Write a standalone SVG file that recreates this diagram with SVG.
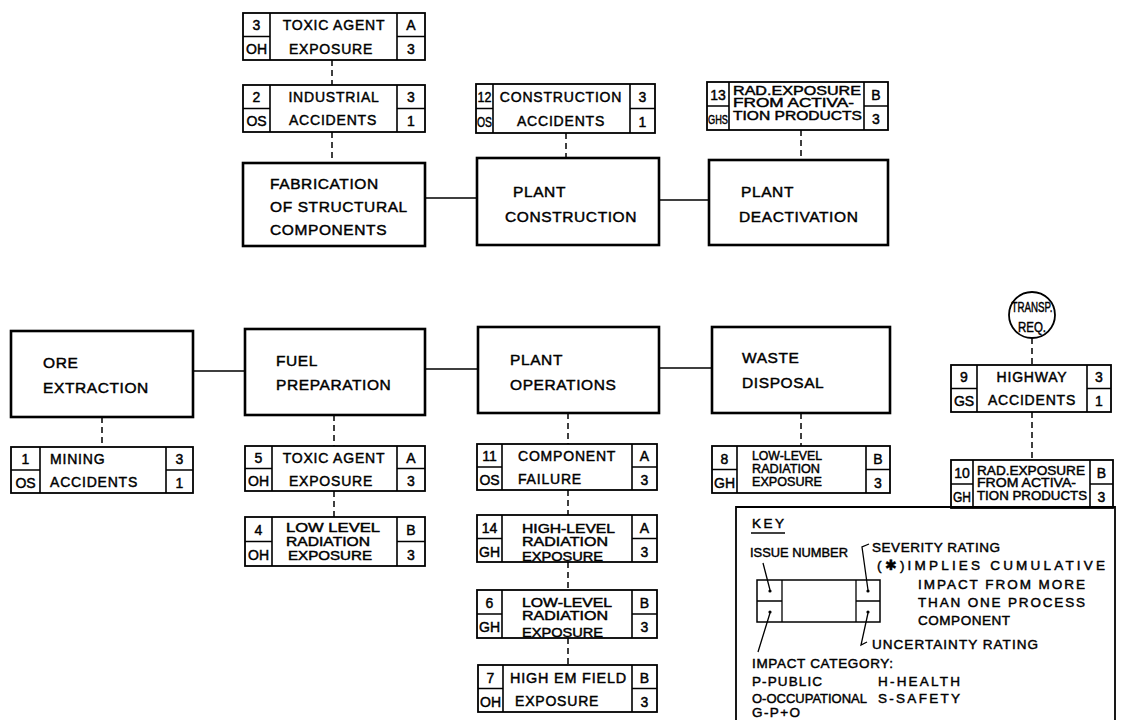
<svg xmlns="http://www.w3.org/2000/svg" width="1135" height="720" viewBox="0 0 1135 720">
<style>
.bg{fill:#fff}
.pbox{fill:#fff;stroke:#000;stroke-width:2.6}
.ibox{fill:#fff;stroke:#000;stroke-width:1.8}
.div{fill:none;stroke:#000;stroke-width:1.6}
.t{font-family:"Liberation Sans",Arial,sans-serif;fill:#000;stroke:#000;stroke-width:0.45}
.pt{font-size:15.5px;letter-spacing:0.6px}
.it{font-size:14px;letter-spacing:0.8px}
.st{font-size:12.5px}
.sc{font-size:14px;text-anchor:middle}
.sm{font-size:12px;text-anchor:middle}
.c{text-anchor:middle}
.solid{fill:none;stroke:#000;stroke-width:1.6}
.dash{fill:none;stroke:#000;stroke-width:1.5;stroke-dasharray:6 4}
.kt{font-size:13.5px}
.kl{fill:none;stroke:#000;stroke-width:1.3}
</style>
<rect class="bg" x="0" y="0" width="1135" height="720"/>

<g id="connectors">
<path class="solid" d="M425 198H477 M659 200H709 M193 371H245 M425 369H478 M659 368H712"/>
<path class="dash" d="M332 60V85 M332 132V163 M566 133V158 M801 130V160 M102 417V447 M334 415V446 M334 491V517 M568 413V444 M568 490V515 M568 562V590 M568 638V665 M801 413V446 M1032 338V365 M1032 412V460"/>
</g>

<!-- Top row -->
<g id="issue3">
<rect class="ibox" x="243" y="13" width="182" height="47"/>
<path class="div" d="M270 13V60 M397 13V60 M243 36.5H270 M397 36.5H425"/>
<text class="t sc" x="256.5" y="30">3</text><text class="t sc" x="256.5" y="54">OH</text>
<text class="t sc" x="411" y="30">A</text><text class="t sc" x="411" y="54">3</text>
<text class="t it c" x="334" y="30">TOXIC AGENT</text><text class="t it c" x="331" y="54">EXPOSURE</text>
</g>
<g id="issue2">
<rect class="ibox" x="243" y="85" width="182" height="47"/>
<path class="div" d="M270 85V132 M397 85V132 M243 108.5H270 M397 108.5H425"/>
<text class="t sc" x="256.5" y="102">2</text><text class="t sc" x="256.5" y="126">OS</text>
<text class="t sc" x="411" y="102">3</text><text class="t sc" x="411" y="126">1</text>
<text class="t it c" x="334" y="102">INDUSTRIAL</text><text class="t it c" x="333" y="125">ACCIDENTS</text>
</g>
<g id="fabrication">
<rect class="pbox" x="243" y="163" width="182" height="83"/>
<text class="t pt" x="270" y="189">FABRICATION</text>
<text class="t pt" x="270" y="212">OF STRUCTURAL</text>
<text class="t pt" x="270" y="235">COMPONENTS</text>
</g>
<g id="issue12">
<rect class="ibox" x="476" y="84" width="179" height="49"/>
<path class="div" d="M493 84V133 M630 84V133 M476 108.5H493 M630 108.5H655"/>
<text class="t sc" x="484.5" y="102" textLength="14" lengthAdjust="spacingAndGlyphs">12</text><text class="t sc" x="484.5" y="127" textLength="15" lengthAdjust="spacingAndGlyphs">OS</text>
<text class="t sc" x="642.5" y="102">3</text><text class="t sc" x="642.5" y="127">1</text>
<text class="t it c" x="561" y="102">CONSTRUCTION</text><text class="t it c" x="561" y="126">ACCIDENTS</text>
</g>
<g id="plant-construction">
<rect class="pbox" x="477" y="158" width="182" height="87"/>
<text class="t pt" x="513" y="197">PLANT</text>
<text class="t pt" x="505" y="222">CONSTRUCTION</text>
</g>
<g id="issue13">
<rect class="ibox" x="707" y="82" width="181" height="48"/>
<path class="div" d="M729 82V130 M864 82V130 M707 106H729 M864 106H888"/>
<text class="t sc" x="718" y="100">13</text><text class="t sm" x="718" y="124" textLength="20" lengthAdjust="spacingAndGlyphs">GHS</text>
<text class="t sc" x="876" y="100">B</text><text class="t sc" x="876" y="124">3</text>
<text class="t st" x="733" y="95" textLength="128" lengthAdjust="spacingAndGlyphs">RAD.EXPOSURE</text>
<text class="t st" x="733" y="107" textLength="121" lengthAdjust="spacingAndGlyphs">FROM ACTIVA-</text>
<text class="t st" x="733" y="120" textLength="129" lengthAdjust="spacingAndGlyphs">TION PRODUCTS</text>
</g>
<g id="plant-deactivation">
<rect class="pbox" x="709" y="160" width="179" height="85"/>
<text class="t pt" x="741" y="197">PLANT</text>
<text class="t pt" x="739" y="222">DEACTIVATION</text>
</g>

<!-- Middle row -->
<g id="ore-extraction">
<rect class="pbox" x="11" y="331" width="182" height="86"/>
<text class="t pt" x="43" y="368">ORE</text>
<text class="t pt" x="43" y="393">EXTRACTION</text>
</g>
<g id="fuel-preparation">
<rect class="pbox" x="245" y="329" width="180" height="86"/>
<text class="t pt" x="276" y="366">FUEL</text>
<text class="t pt" x="276" y="390">PREPARATION</text>
</g>
<g id="plant-operations">
<rect class="pbox" x="478" y="327" width="181" height="86"/>
<text class="t pt" x="510" y="365">PLANT</text>
<text class="t pt" x="510" y="390">OPERATIONS</text>
</g>
<g id="waste-disposal">
<rect class="pbox" x="712" y="327" width="178" height="86"/>
<text class="t pt" x="742" y="363">WASTE</text>
<text class="t pt" x="742" y="388">DISPOSAL</text>
</g>
<g id="transp-req">
<circle cx="1032" cy="315" r="23" fill="#fff" stroke="#000" stroke-width="1.8"/>
<text class="t c" x="1032" y="312" font-size="14" textLength="41" lengthAdjust="spacingAndGlyphs">TRANSP.</text>
<text class="t c" x="1032" y="332" font-size="14" textLength="28" lengthAdjust="spacingAndGlyphs">REQ.</text>
</g>
<g id="issue9">
<rect class="ibox" x="951" y="365" width="160" height="47"/>
<path class="div" d="M977 365V412 M1087 365V412 M951 388.5H977 M1087 388.5H1111"/>
<text class="t sc" x="964" y="382">9</text><text class="t sc" x="964" y="406">GS</text>
<text class="t sc" x="1099" y="382">3</text><text class="t sc" x="1099" y="406">1</text>
<text class="t it c" x="1032" y="382">HIGHWAY</text><text class="t it c" x="1032" y="405">ACCIDENTS</text>
</g>
<g id="issue10">
<rect class="ibox" x="951" y="460" width="162" height="48"/>
<path class="div" d="M973 460V508 M1090 460V508 M951 484H973 M1090 484H1113"/>
<text class="t sc" x="962" y="478">10</text><text class="t sc" x="962" y="502" textLength="18" lengthAdjust="spacingAndGlyphs">GH</text>
<text class="t sc" x="1101.5" y="478">B</text><text class="t sc" x="1101.5" y="502">3</text>
<text class="t st" x="977" y="475" textLength="108" lengthAdjust="spacingAndGlyphs">RAD.EXPOSURE</text>
<text class="t st" x="977" y="487" textLength="99" lengthAdjust="spacingAndGlyphs">FROM ACTIVA-</text>
<text class="t st" x="977" y="500" textLength="110" lengthAdjust="spacingAndGlyphs">TION PRODUCTS</text>
</g>

<!-- Bottom -->
<g id="issue1">
<rect class="ibox" x="11" y="447" width="182" height="46"/>
<path class="div" d="M40 447V493 M166 447V493 M11 470H40 M166 470H193"/>
<text class="t sc" x="25.5" y="464">1</text><text class="t sc" x="25.5" y="488">OS</text>
<text class="t sc" x="179.5" y="464">3</text><text class="t sc" x="179.5" y="488">1</text>
<text class="t it" x="50" y="464">MINING</text><text class="t it" x="50" y="487">ACCIDENTS</text>
</g>
<g id="issue5">
<rect class="ibox" x="245" y="446" width="180" height="45"/>
<path class="div" d="M272 446V491 M397 446V491 M245 468.5H272 M397 468.5H425"/>
<text class="t sc" x="258.5" y="463">5</text><text class="t sc" x="258.5" y="486">OH</text>
<text class="t sc" x="411" y="463">A</text><text class="t sc" x="411" y="486">3</text>
<text class="t it c" x="334" y="463">TOXIC AGENT</text><text class="t it c" x="331" y="486">EXPOSURE</text>
</g>
<g id="issue4">
<rect class="ibox" x="245" y="517" width="180" height="49"/>
<path class="div" d="M272 517V566 M397 517V566 M245 541.5H272 M397 541.5H425"/>
<text class="t sc" x="258.5" y="535">4</text><text class="t sc" x="258.5" y="560">OH</text>
<text class="t sc" x="411" y="535">B</text><text class="t sc" x="411" y="560">3</text>
<text class="t st" x="286" y="532" textLength="94" lengthAdjust="spacingAndGlyphs">LOW LEVEL</text>
<text class="t st" x="286" y="546" textLength="84" lengthAdjust="spacingAndGlyphs">RADIATION</text>
<text class="t st" x="288" y="560" textLength="84" lengthAdjust="spacingAndGlyphs">EXPOSURE</text>
</g>
<g id="issue11">
<rect class="ibox" x="477" y="444" width="180" height="46"/>
<path class="div" d="M502 444V490 M632 444V490 M477 467H502 M632 467H657"/>
<text class="t sc" x="489.5" y="461">11</text><text class="t sc" x="489.5" y="485">OS</text>
<text class="t sc" x="644.5" y="461">A</text><text class="t sc" x="644.5" y="485">3</text>
<text class="t it" x="518" y="461">COMPONENT</text><text class="t it" x="518" y="484">FAILURE</text>
</g>
<g id="issue14">
<rect class="ibox" x="477" y="515" width="180" height="47"/>
<path class="div" d="M502 515V562 M632 515V562 M477 538.5H502 M632 538.5H657"/>
<text class="t sc" x="489.5" y="533">14</text><text class="t sc" x="489.5" y="557">GH</text>
<text class="t sc" x="644.5" y="533">A</text><text class="t sc" x="644.5" y="557">3</text>
<text class="t st" x="522" y="533" textLength="93" lengthAdjust="spacingAndGlyphs">HIGH-LEVEL</text>
<text class="t st" x="522" y="546" textLength="86" lengthAdjust="spacingAndGlyphs">RADIATION</text>
<text class="t st" x="522" y="561" textLength="81" lengthAdjust="spacingAndGlyphs">EXPOSURE</text>
</g>
<g id="issue6">
<rect class="ibox" x="477" y="590" width="180" height="48"/>
<path class="div" d="M502 590V638 M632 590V638 M477 614H502 M632 614H657"/>
<text class="t sc" x="489.5" y="608">6</text><text class="t sc" x="489.5" y="632">GH</text>
<text class="t sc" x="644.5" y="608">B</text><text class="t sc" x="644.5" y="632">3</text>
<text class="t st" x="522" y="607" textLength="90" lengthAdjust="spacingAndGlyphs">LOW-LEVEL</text>
<text class="t st" x="522" y="620" textLength="86" lengthAdjust="spacingAndGlyphs">RADIATION</text>
<text class="t st" x="522" y="637" textLength="81" lengthAdjust="spacingAndGlyphs">EXPOSURE</text>
</g>
<g id="issue7">
<rect class="ibox" x="478" y="665" width="179" height="47"/>
<path class="div" d="M503 665V712 M632 665V712 M478 688.5H503 M632 688.5H657"/>
<text class="t sc" x="490.5" y="683">7</text><text class="t sc" x="490.5" y="707">OH</text>
<text class="t sc" x="644.5" y="683">B</text><text class="t sc" x="644.5" y="707">3</text>
<text class="t it" x="510" y="683" textLength="117" lengthAdjust="spacingAndGlyphs">HIGH EM FIELD</text>
<text class="t it" x="515" y="706">EXPOSURE</text>
</g>
<g id="issue8">
<rect class="ibox" x="712" y="446" width="178" height="47"/>
<path class="div" d="M737 446V493 M866 446V493 M712 469.5H737 M866 469.5H890"/>
<text class="t sc" x="724.5" y="464">8</text><text class="t sc" x="724.5" y="488">GH</text>
<text class="t sc" x="878" y="464">B</text><text class="t sc" x="878" y="488">3</text>
<text class="t st" x="752" y="460" textLength="70" lengthAdjust="spacingAndGlyphs">LOW-LEVEL</text>
<text class="t st" x="752" y="473" textLength="68" lengthAdjust="spacingAndGlyphs">RADIATION</text>
<text class="t st" x="752" y="486" textLength="70" lengthAdjust="spacingAndGlyphs">EXPOSURE</text>
</g>

<!-- Key -->
<g id="key">
<path fill="none" stroke="#000" stroke-width="1.8" d="M736 722V507H1115V722"/>
<text class="t kt" x="752" y="528" textLength="32" lengthAdjust="spacing">KEY</text>
<path class="kl" d="M751 533H785"/>
<text class="t kt" x="750" y="557" textLength="98" lengthAdjust="spacingAndGlyphs">ISSUE NUMBER</text>
<rect x="757" y="580" width="123" height="42" fill="none" stroke="#000" stroke-width="1.5"/>
<path class="kl" d="M782 580V622 M856 580V622 M757 601H782 M856 601H880"/>
<circle cx="770" cy="591" r="1.6"/><circle cx="770" cy="612" r="1.6"/>
<circle cx="868" cy="591" r="1.6"/><circle cx="868" cy="612" r="1.6"/>
<path class="kl" d="M763 563L770 590 M770 613L758 652 M869 544L862 547L868 590 M868 613L861 645L867 642"/>
<text class="t kt" x="872" y="552" textLength="128" lengthAdjust="spacing">SEVERITY RATING</text>
<text class="t kt" x="877" y="570" textLength="228" lengthAdjust="spacing">(✱)IMPLIES CUMULATIVE</text>
<text class="t kt" x="918" y="589" textLength="167" lengthAdjust="spacing">IMPACT FROM MORE</text>
<text class="t kt" x="918" y="607" textLength="167" lengthAdjust="spacing">THAN ONE PROCESS</text>
<text class="t kt" x="918" y="625" textLength="92" lengthAdjust="spacing">COMPONENT</text>
<text class="t kt" x="872" y="649" textLength="166" lengthAdjust="spacing">UNCERTAINTY RATING</text>
<text class="t kt" x="752" y="668" textLength="141" lengthAdjust="spacing">IMPACT CATEGORY:</text>
<text class="t kt" x="752" y="686" textLength="70" lengthAdjust="spacing">P-PUBLIC</text>
<text class="t kt" x="878" y="686" textLength="82" lengthAdjust="spacing">H-HEALTH</text>
<text class="t kt" x="752" y="703" textLength="115" lengthAdjust="spacingAndGlyphs">O-OCCUPATIONAL</text>
<text class="t kt" x="878" y="703" textLength="82" lengthAdjust="spacing">S-SAFETY</text>
<text class="t kt" x="752" y="717" textLength="48" lengthAdjust="spacing">G-P+O</text>
</g>
</svg>
